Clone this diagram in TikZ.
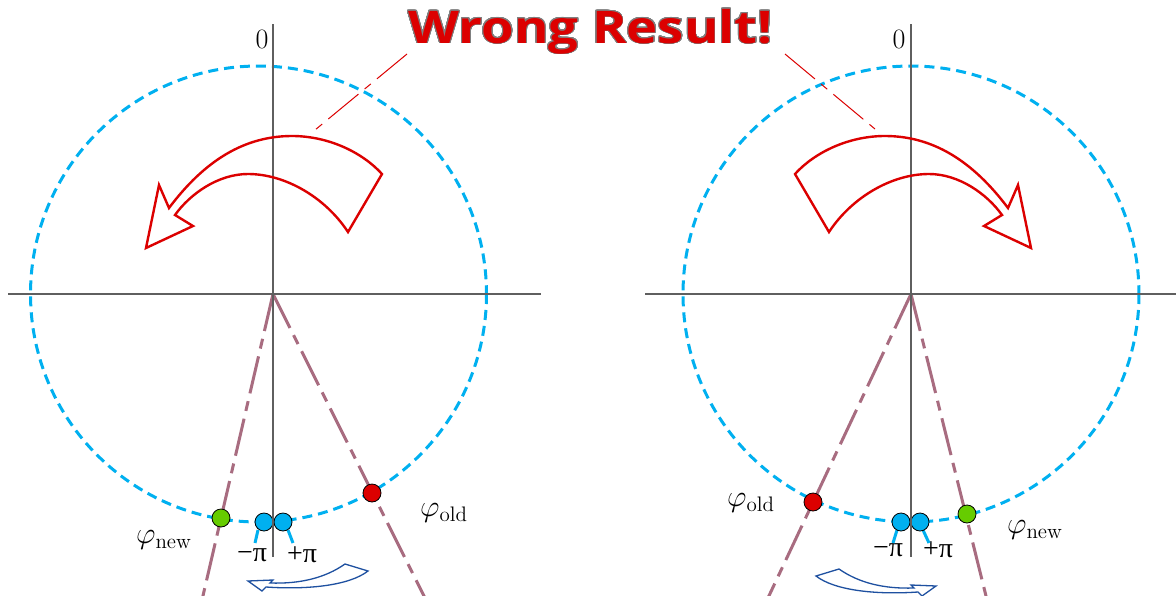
\documentclass[tikz,border=0pt]{standalone}
\usepackage{fontspec}
\newfontfamily\titlefont{Open Sans}
\newfontfamily\pifont{Liberation Serif}
\usepackage{contour}
\contourlength{0.8pt}
\contournumber{32}
\definecolor{cyanc}{RGB}{0,176,240}
\definecolor{redc}{RGB}{220,0,0}
\definecolor{greenc}{RGB}{102,204,0}
\definecolor{mauve}{RGB}{168,108,128}
\definecolor{axisgray}{RGB}{95,95,95}
\definecolor{bluearr}{RGB}{30,80,160}
\newcommand{\phil}[1]{\scalebox{1.75}{\fontsize{17.28}{20}\selectfont$\varphi_{\mathrm{#1}}$}}
\tikzset{
  axisline/.style={axisgray, line width=1.3},
  dashcircle/.style={cyanc, line width=3, dash pattern=on 10 off 6},
  rayline/.style={mauve, line width=3, dash pattern=on 38 off 8 on 10 off 8},
  leader/.style={redc, line width=1, dash pattern=on 39 off 8 on 8 off 8},
  dot/.style={circle, draw=black, line width=0.8, inner sep=0pt, minimum size=18pt},
  bluedot/.style={dot, fill=cyanc},
  reddot/.style={dot, fill=redc},
  greendot/.style={dot, fill=greenc},
  tick/.style={cyanc, line width=3},
  biglabel/.style={font=\fontsize{28}{30}\selectfont, inner sep=0pt},
  pilabel/.style={font=\pifont\fontsize{28}{30}\selectfont, inner sep=0pt},
  bigarrow/.style={redc, line width=2.4, line join=miter},
  smallarrow/.style={bluearr, line width=1.3, line join=miter},
}
\begin{document}
\begin{tikzpicture}[x=1pt, y=-1pt]
\useasboundingbox (0,0) rectangle (1176,595);
\clip (0,0) rectangle (1176,595);
\fill[white] (0,0) rectangle (1176,595);

% ---------- circles ----------
\draw[dashcircle] (258.5,294) circle[radius=228];
\draw[dashcircle] (911,294) circle[radius=228];

% ---------- centres and ray ends ----------
\coordinate (OL) at (273,294);
\coordinate (OR) at (911,294);
\coordinate (LL) at (202,600);
\coordinate (LR) at (426,600);
\coordinate (RL) at (767,600);
\coordinate (RR) at (987,600);
\draw[rayline] (OL) -- (LL);
\draw[rayline] (OL) -- (LR);
\draw[rayline] (OR) -- (RL);
\draw[rayline] (OR) -- (RR);

% ---------- axes ----------
\coordinate (hL1) at (8,294);   \coordinate (hL2) at (541,294);
\coordinate (vL1) at (273,24);  \coordinate (vL2) at (273,557);
\coordinate (hR1) at (645,294); \coordinate (hR2) at (1176,294);
\coordinate (vR1) at (911,24);  \coordinate (vR2) at (911,557);
\draw[axisline] (hL1) -- (hL2);
\draw[axisline] (vL1) -- (vL2);
\draw[axisline] (hR1) -- (hR2);
\draw[axisline] (vR1) -- (vR2);

\node[biglabel] (zeroL) at (262,39) {0};
\node[biglabel] (zeroR) at (899,39) {0};

% ---------- title and leaders ----------
\node[anchor=base west, inner sep=0pt, text=redc,
      font=\titlefont\bfseries\fontsize{45}{50}\selectfont] (title) at (408,43)
      {\scalebox{1.17}[1]{\contour{gray}{Wrong Result!}}};
\coordinate (tl1) at (407,54); \coordinate (tl2) at (315,130);
\coordinate (tr1) at (785,54); \coordinate (tr2) at (875,129);
\draw[leader] (tl1) -- (tl2);
\draw[leader] (tr1) -- (tr2);

% ---------- big red arrows ----------
\begin{scope}
\draw[bigarrow] (348,232) -- (382,174)
  .. controls (362,152) and (328,136) .. (292,136)
  .. controls (245,136) and (205,160) .. (169,208)
  -- (159,185) -- (146,248) -- (193,226) -- (175,215)
  .. controls (190,194) and (218,174) .. (248,174)
  .. controls (285,174) and (325,197) .. (348,232) -- cycle;
\end{scope}
\begin{scope}[shift={(1177,0)}, xscale=-1]
\draw[bigarrow] (348,232) -- (382,174)
  .. controls (362,152) and (328,136) .. (292,136)
  .. controls (245,136) and (205,160) .. (169,208)
  -- (159,185) -- (146,248) -- (193,226) -- (175,215)
  .. controls (190,194) and (218,174) .. (248,174)
  .. controls (285,174) and (325,197) .. (348,232) -- cycle;
\end{scope}

% ---------- small blue arrows ----------
\begin{scope}
\draw[smallarrow] (345,564) .. controls (325,578) and (300,584) .. (270,583)
  -- (273,580) -- (248,581) -- (262,591) -- (266,587)
  .. controls (310,590) and (350,585) .. (368,571) -- cycle;
\end{scope}
\begin{scope}[shift={(1184,5)}, xscale=-1]
\draw[smallarrow] (345,564) .. controls (325,578) and (300,584) .. (270,583)
  -- (273,580) -- (248,581) -- (262,591) -- (266,587)
  .. controls (310,590) and (350,585) .. (368,571) -- cycle;
\end{scope}

% ---------- labels ----------
\node[pilabel] (mpL) at (252,555) {−π};
\node[pilabel] (ppL) at (302,555) {+π};
\node[pilabel] (mpR) at (888,550) {−π};
\node[pilabel] (ppR) at (938,550) {+π};
\node[inner sep=0pt] (newL) at (164,540) {\phil{new}};
\node[inner sep=0pt] (oldL) at (444,513) {\phil{old}};
\node[inner sep=0pt] (oldR) at (751,503) {\phil{old}};
\node[inner sep=0pt] (newR) at (1035,530) {\phil{new}};

% ---------- ticks ----------
\coordinate (tkL1a) at (258,530); \coordinate (tkL1b) at (255,543);
\coordinate (tkL2a) at (288,530); \coordinate (tkL2b) at (293,543);
\coordinate (tkR1a) at (897,530); \coordinate (tkR1b) at (893,543);
\coordinate (tkR2a) at (923,530); \coordinate (tkR2b) at (929,543);
\draw[tick] (tkL1a) -- (tkL1b);
\draw[tick] (tkL2a) -- (tkL2b);
\draw[tick] (tkR1a) -- (tkR1b);
\draw[tick] (tkR2a) -- (tkR2b);

% ---------- dots ----------
\node[greendot] (gL) at (221,518) {};
\node[reddot]   (rL) at (372,493) {};
\node[bluedot]  (bL1) at (264,522) {};
\node[bluedot]  (bL2) at (283,522) {};
\node[reddot]   (rR) at (813,502) {};
\node[greendot] (gR) at (967,514) {};
\node[bluedot]  (bR1) at (901,522) {};
\node[bluedot]  (bR2) at (920,522) {};
\draw[axisline] (273,510) -- (vL2);
\draw[axisline] (911,510) -- (vR2);
\end{tikzpicture}
\end{document}
